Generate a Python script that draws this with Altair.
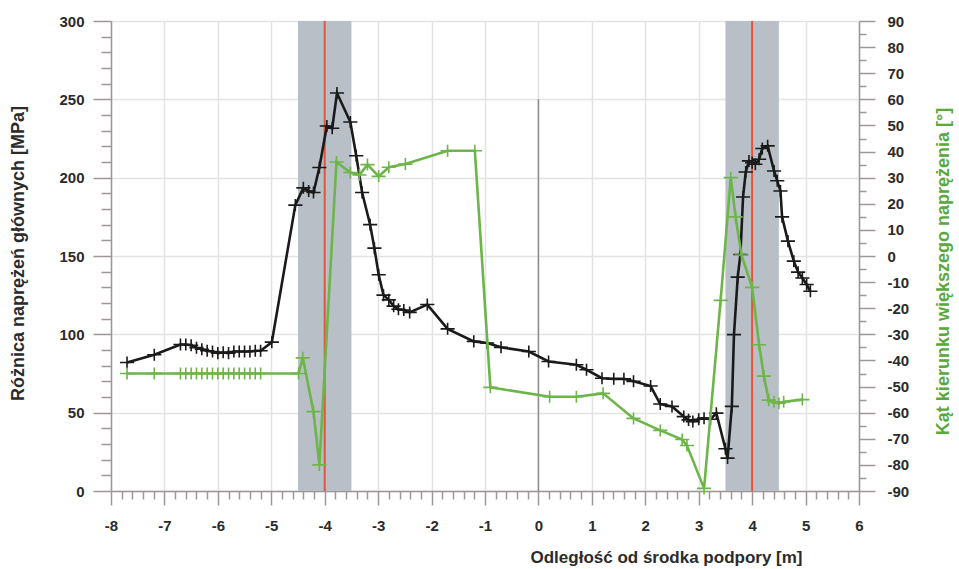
import altair as alt
import pandas as pd

# ---------------- data ----------------
black_x = [-7.70, -7.19, -6.70, -6.60, -6.50, -6.40, -6.30, -6.20, -6.10, -6.00,
           -5.90, -5.80, -5.70, -5.60, -5.50, -5.40, -5.30, -5.20, -4.99, -4.55,
           -4.40, -4.30, -4.21, -4.10, -3.96, -3.86, -3.77, -3.52, -3.41, -3.30,
           -3.15, -3.07, -2.99, -2.90, -2.80, -2.71, -2.62, -2.52, -2.41, -2.08,
           -1.70, -1.21, -0.96, -0.70, -0.18, 0.19, 0.71, 0.90, 1.19, 1.41,
           1.60, 1.78, 2.10, 2.28, 2.50, 2.72, 2.81, 2.89, 3.00, 3.10,
           3.22, 3.33, 3.50, 3.54, 3.62, 3.66, 3.73, 3.78, 3.83, 3.88,
           3.94, 4.00, 4.06, 4.13, 4.19, 4.29, 4.41, 4.47, 4.53, 4.56,
           4.67, 4.78, 4.86, 4.94, 5.02, 5.09]
black_v = [82, 87, 93.5, 93.5, 93, 91.5, 90.5, 89.5, 89, 88,
           88.5, 88, 89, 89, 89, 89, 89.5, 89.5, 95, 182.5,
           193.5, 191.5, 190.5, 206.5, 233, 231.5, 254, 235.5, 214, 190.5,
           170, 155, 138, 125, 122, 118, 116, 115.5, 114, 119,
           103.5, 95.5, 94.5, 91.7, 89, 82.7, 80.6, 77.4, 72, 71.6,
           71.6, 70, 67, 55.5, 54, 47.5, 45.4, 44.3, 45.8, 46.5,
           45.8, 49.7, 27, 21, 54, 99.8, 136.5, 151, 187.7, 203.6,
           210.7, 209.6, 208.6, 211.8, 218.6, 220.3, 204.3, 198, 191.5, 175,
           159.5, 146.7, 139.7, 136, 131.8, 127.5]

green_x = [-7.70, -7.19, -6.70, -6.60, -6.50, -6.40, -6.30, -6.20, -6.10, -6.00,
           -5.90, -5.80, -5.70, -5.60, -5.50, -5.40, -5.30, -5.20, -4.49, -4.41,
           -4.21, -4.10, -3.78, -3.52, -3.35, -3.20, -2.99, -2.80, -2.49, -1.70,
           -1.19, -0.90, 0.21, 0.71, 1.21, 1.78, 2.28, 2.69, 2.78, 3.10,
           3.41, 3.60, 3.69, 3.80, 4.00, 4.13, 4.22, 4.31, 4.41, 4.50,
           4.59, 4.94]
green_a = [-45, -45, -45, -45, -45, -45, -45, -45, -45, -45,
           -45, -45, -45, -45, -45, -45, -45, -45, -45, -39,
           -59.6, -80, 36, 32, 31, 35, 30.5, 34, 35.2, 40.3,
           40.3, -50.3, -53.9, -53.9, -52.6, -62.2, -66.8, -70.3, -72.6, -89,
           -17, 30, 15, 0.4, -12, -34, -46, -55.2, -55.8, -56.4,
           -55.8, -55]

band_start = [-4.5, 3.5]
band_end = [-3.5, 4.5]
support_x = [-4, 4]
center_x = [0]
center_top = [250]

x_major = [-8, -7, -6, -5, -4, -3, -2, -1, 0, 1, 2, 3, 4, 5, 6]
y_left_major = [0, 50, 100, 150, 200, 250, 300]
y_right_major = [-90, -80, -70, -60, -50, -40, -30, -20, -10, 0, 10, 20, 30, 40, 50, 60, 70, 80, 90]

x_ticks = [round(-8 + 0.2 * i, 1) for i in range(71)]
y_left_ticks = list(range(0, 301, 10))
y_right_ticks = list(range(-90, 91, 5))

black_df = pd.DataFrame({"x": black_x, "v": black_v, "i": range(len(black_x))})
green_df = pd.DataFrame({"x": green_x, "a": green_a, "i": range(len(green_x))})
band_df = pd.DataFrame({"x": band_start, "x2": band_end})
support_df = pd.DataFrame({"x": support_x})
center_df = pd.DataFrame({"x": center_x, "v0": [0], "v": center_top})

# ---------------- styles ----------------
FONT = "Liberation Sans"
AXIS_GRAY = "#9e9696"
GRID = "#e3e3e3"
LABEL = "#2b2b2b"
BLACK = "#1a1a1a"
GREEN = "#6db549"
GREEN_T = "#5aa83c"
RED = "#e0553f"
BAND = "#b8bfc7"
PLUS = "M-1,0H1M0,-0.85V0.85"

common = dict(labelFont=FONT, labelFontSize=15, labelFontWeight="bold", labelColor=LABEL,
              titleFont=FONT, titleFontWeight="bold",
              domainColor=AXIS_GRAY, domainWidth=1.5, tickColor=AXIS_GRAY, tickWidth=1.5,
              labelOverlap=False, labelFlush=False)

is_int = "abs(datum.value - round(datum.value)) < 0.01"
x_axis = alt.Axis(
    values=x_ticks, orient="bottom",
    labelExpr=f"{is_int} ? '' + round(datum.value) : ''",
    tickSize={"condition": {"test": is_int, "value": 14}, "value": 8},
    grid=True, gridColor=GRID, gridWidth=1.5,
    gridOpacity={"condition": {"test": is_int, "value": 1}, "value": 0},
    labelPadding=13, labelBaseline="top",
    title="Odległość od środka podpory [m]", titleColor=LABEL, titleFontSize=17,
    titleX=555, titleY=66, titleAlign="center", titleBaseline="middle",
    **common)

is50 = "datum.value % 50 === 0"
y_axis = alt.Axis(
    values=y_left_ticks, orient="left",
    labelExpr=f"{is50} ? '' + datum.value : ''",
    tickSize={"condition": {"test": is50, "value": 18}, "value": 10},
    grid=True, gridColor=GRID, gridWidth=1.5,
    gridOpacity={"condition": {"test": is50, "value": 1}, "value": 0},
    labelPadding=9,
    title="Różnica naprężeń głównych [MPa]", titleColor=LABEL, titleFontSize=18,
    titleAngle=270, titleX=-93, titleY=232, titleAlign="center", titleBaseline="middle",
    **common)

is10 = "datum.value % 10 === 0"
y2_axis = alt.Axis(
    values=y_right_ticks, orient="right",
    labelExpr=f"{is10} ? '' + datum.value : ''",
    tickSize={"condition": {"test": is10, "value": 16}, "value": 7},
    grid=False, labelPadding=12,
    title="Kąt kierunku większego naprężenia [°]", titleColor=GREEN_T, titleFontSize=18,
    titleAngle=270, titleX=84, titleY=250, titleAlign="center", titleBaseline="middle",
    **common)

xs = alt.Scale(domain=[-8, 6], nice=False, zero=False)
ys = alt.Scale(domain=[0, 300], nice=False, zero=False)
ys2 = alt.Scale(domain=[-90, 90], nice=False, zero=False)

X = alt.X("x:Q", scale=xs, axis=x_axis)
Y = alt.Y("v:Q", scale=ys, axis=y_axis)

bands = alt.Chart(band_df).mark_rect(color=BAND, opacity=1).encode(
    x=X, x2="x2:Q")
supports = alt.Chart(support_df).mark_rule(color=RED, strokeWidth=2).encode(x=X)
center = alt.Chart(center_df).mark_rule(color="#8c8c8c", strokeWidth=1.5).encode(
    x=X, y=Y, y2="v0:Q")
black_line = alt.Chart(black_df).mark_line(color=BLACK, strokeWidth=2.6).encode(
    x=X, y=Y, order="i:Q")
black_pts = alt.Chart(black_df).mark_point(shape=PLUS, size=200, filled=False,
                                           stroke=BLACK, strokeWidth=1.6, opacity=1).encode(
    x=X, y=Y)

left = alt.layer(bands, supports, center, black_line, black_pts)

YA = alt.Y("a:Q", scale=ys2, axis=y2_axis)
green_line = alt.Chart(green_df).mark_line(color=GREEN, strokeWidth=2.6).encode(
    x=X, y=YA, order="i:Q")
green_pts = alt.Chart(green_df).mark_point(shape=PLUS, size=200, filled=False,
                                           stroke=GREEN, strokeWidth=1.6, opacity=1).encode(
    x=X, y=YA)
right = alt.layer(green_line, green_pts)

chart = alt.layer(left, right).resolve_scale(y="independent").properties(
    width=748, height=470,
    autosize=alt.AutoSizeParams(type="none"),
    padding={"left": 111, "top": 21, "right": 100, "bottom": 78},
    background="white",
).configure_view(stroke=None)

chart.save("out.html", embed_options={"renderer": "svg", "actions": False})
